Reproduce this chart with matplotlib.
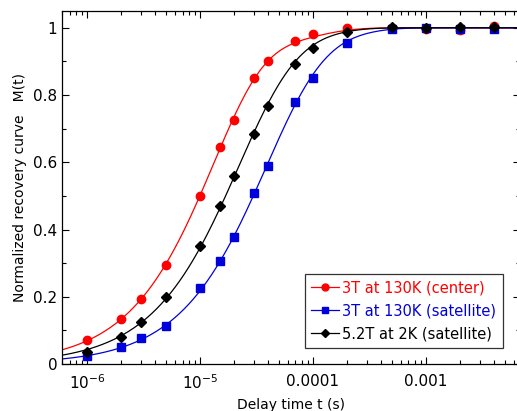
import numpy as np
import matplotlib
matplotlib.use("Agg")
import matplotlib.pyplot as plt
from matplotlib.ticker import LogLocator, FixedLocator, NullFormatter, FuncFormatter

# delay times (s) and normalized recovery values
t_data = [1e-6, 2e-6, 3e-6, 5e-6, 1e-5, 1.5e-5, 2e-5, 3e-5, 4e-5, 7e-5,
          1e-4, 2e-4, 5e-4, 1e-3, 2e-3, 4e-3]
m_center_130k = [0.071, 0.134, 0.193, 0.295, 0.500, 0.645, 0.726, 0.850, 0.902, 0.962,
                 0.981, 0.999, 1.000, 0.997, 0.994, 1.004]
m_sat_130k = [0.024, 0.052, 0.078, 0.114, 0.227, 0.305, 0.377, 0.510, 0.589, 0.779,
              0.852, 0.954, 0.996, 1.000, 0.997, 0.997]
m_sat_2k = [0.037, 0.081, 0.124, 0.200, 0.352, 0.470, 0.560, 0.685, 0.766, 0.893,
            0.941, 0.987, 1.001, 1.000, 1.001, 1.001]

labels = ["3T at 130K (center)", "3T at 130K (satellite)", "5.2T at 2K (satellite)"]
colors = ["#ff0000", "#0000dd", "#000000"]
markers = ["o", "s", "D"]
msizes = [6, 5.5, 5.5]

# recovery-function weights / rates (I=3/2 central and satellite lines)
center_w = [0.1, 0.9]
center_k = [1, 6]
sat_w = [0.1, 0.5, 0.4]
sat_k = [1, 3, 6]
fit_forms = [(center_w, center_k), (sat_w, sat_k), (sat_w, sat_k)]

x_ticks = [1e-6, 1e-5, 1e-4, 1e-3]
x_tick_labels = [r"$10^{-6}$", r"$10^{-5}$", "0.0001", "0.001"]


def recovery(t, T1, w, k):
    t = np.asarray(t)
    return 1 - sum(wi * np.exp(-ki * t / T1) for wi, ki in zip(w, k))


def fit_T1(t, m, w, k):
    # least squares over a grid of T1 values
    m = np.asarray(m)
    grid = np.logspace(-5.5, -3, 1000)
    errs = [np.sum((recovery(t, T, w, k) - m) ** 2) for T in grid]
    return grid[int(np.argmin(errs))]


plt.rcParams['font.family'] = ['DejaVu Sans']
fig = plt.figure(figsize=(5.17, 4.11), dpi=100)
ax = fig.add_axes([62 / 517, 47 / 411, 458 / 517, 353 / 411])

tt = np.logspace(np.log10(6e-7), np.log10(7e-3), 400)
series = [m_center_130k, m_sat_130k, m_sat_2k]
for m, lab, c, mk, ms, (w, k) in zip(series, labels, colors, markers, msizes, fit_forms):
    T1 = fit_T1(t_data, m, w, k)
    ax.plot(tt, recovery(tt, T1, w, k), color=c, lw=0.9)
    ax.plot(t_data, m, color=c, ls="none", marker=mk, ms=ms)
    ax.plot([], [], color=c, lw=0.9, marker=mk, ms=ms - 1, label=lab)

ax.set_xscale("log")
ax.set_xlim(6e-7, 6.8e-3)
ax.set_ylim(0, 1.05)

ax.xaxis.set_major_locator(FixedLocator(x_ticks))
ax.xaxis.set_major_formatter(FuncFormatter(lambda v, p: x_tick_labels[x_ticks.index(v)] if v in x_ticks else ""))
ax.xaxis.set_minor_locator(LogLocator(base=10, subs=np.arange(2, 10)))
ax.xaxis.set_minor_formatter(NullFormatter())
ax.set_yticks([0, 0.2, 0.4, 0.6, 0.8, 1.0])
ax.set_yticklabels(["0", "0.2", "0.4", "0.6", "0.8", "1"])
ax.set_yticks(np.arange(0.1, 1.05, 0.2), minor=True)

ax.tick_params(which="both", direction="in", top=True, right=True, labelsize=11)
ax.tick_params(which="major", length=5, width=0.8)
ax.tick_params(which="minor", length=3, width=0.8)
ax.tick_params(axis="x", pad=7)
for s in ax.spines.values():
    s.set_linewidth(0.9)

ax.set_xlabel("Delay time t (s)", fontsize=10)
ax.set_ylabel("Normalized recovery curve   M(t)", fontsize=10, labelpad=4)

leg = ax.legend(loc="lower right", bbox_to_anchor=(0.978, 0.025), fontsize=10.5,
                frameon=True, fancybox=False, edgecolor="black", handlelength=1.9,
                handletextpad=0.2, borderpad=0.45, labelspacing=0.55)
leg.get_frame().set_linewidth(0.9)
for txt, c in zip(leg.get_texts(), colors):
    txt.set_color(c)

fig.savefig("out.png", dpi=100)
